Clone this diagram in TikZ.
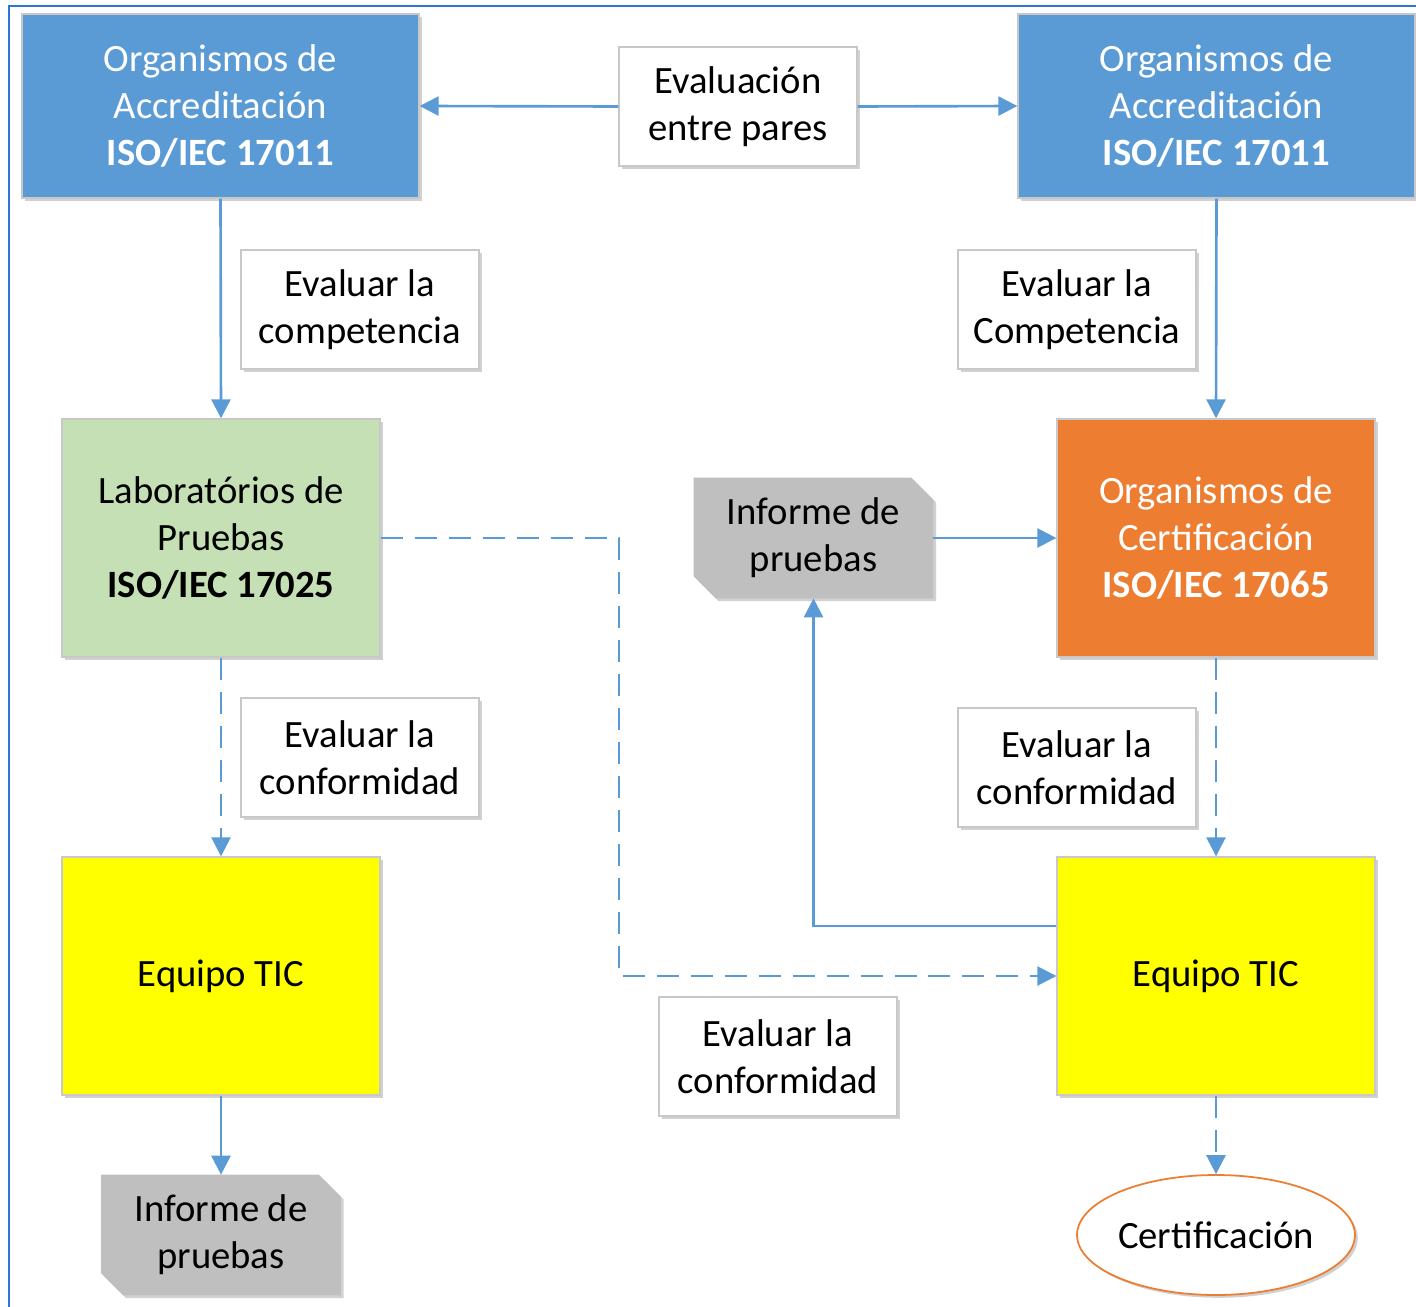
\documentclass[tikz,border=0pt]{standalone}
\usepackage{fontspec}
\setmainfont{Carlito}
\usetikzlibrary{shadows,arrows.meta,backgrounds,shapes.geometric}
\definecolor{accblue}{HTML}{5B9BD5}
\definecolor{labgreen}{HTML}{C5E0B4}
\definecolor{certorange}{HTML}{ED7D31}
\definecolor{ticyellow}{HTML}{FFFF00}
\definecolor{infgray}{HTML}{BFBFBF}
\definecolor{edgegray}{HTML}{C8C8C8}
\definecolor{frameblue}{HTML}{2E75D6}
\tikzset{
  shadowed/.style={drop shadow={shadow xshift=1.6pt,shadow yshift=-1.6pt,opacity=0.3,fill=black!60}},
  basebox/.style={rectangle,draw=edgegray,line width=0.8pt,align=center,inner sep=0pt,
    font=\fontsize{22}{26.7}\selectfont,shadowed},
  accbox/.style={basebox,fill=accblue,text=white,minimum width=7.94cm,minimum height=3.68cm},
  bigbox/.style={basebox,minimum width=6.36cm,minimum height=4.76cm},
  labelbox/.style={basebox,fill=white,minimum width=4.76cm,minimum height=2.38cm},
  infnode/.style={rectangle,align=center,inner sep=0pt,minimum width=4.78cm,minimum height=2.4cm,
    font=\fontsize{22}{26.7}\selectfont},
  infshape/.style={fill=infgray,shadowed},
  conn/.style={draw=accblue,line width=1.5pt,-{Triangle[length=0.38cm,width=0.38cm]}},
  dconn/.style={conn,dash pattern=on 0.44cm off 0.24cm},
}
\begin{document}
\begin{tikzpicture}[x=0.02cm,y=-0.02cm]
\useasboundingbox (0,0) rectangle (1416,1307);
% frame
\draw[frameblue,line width=1.4pt] (1416,6) -- (9,6) -- (9,1307);

% nodes
\node[accbox] (accL) at (220.5,106) {Organismos de\\Accreditación\\\textbf{ISO/IEC 17011}};
\node[accbox] (accR) at (1216.5,106) {Organismos de\\Accreditación\\\textbf{ISO/IEC 17011}};
\node[labelbox] (peer) at (738,106.5) {Evaluación\\entre pares};
\node[labelbox] (compL) at (360,309.5) {Evaluar la\\competencia};
\node[labelbox] (compR) at (1077,309.5) {Evaluar la\\Competencia};
\node[bigbox,fill=labgreen] (lab) at (221,538) {Laboratórios de\\Pruebas\\\textbf{ISO/IEC 17025}};
\node[bigbox,fill=certorange,text=white] (cert) at (1216,538) {Organismos de\\Certificación\\\textbf{ISO/IEC 17065}};
\node[labelbox] (confL) at (360,757.5) {Evaluar la\\conformidad};
\node[labelbox] (confR) at (1077,767.5) {Evaluar la\\conformidad};
\node[bigbox,fill=ticyellow] (eqL) at (221,976) {Equipo TIC};
\node[bigbox,fill=ticyellow] (eqR) at (1216,976) {Equipo TIC};
\node[labelbox] (confB) at (778,1056.5) {Evaluar la\\conformidad};
\node[infnode] (infM) at (813.5,538) {Informe de\\pruebas};
\node[infnode] (infB) at (221,1235) {Informe de\\pruebas};
\node[ellipse,draw=certorange,line width=1pt,fill=white,shadowed,minimum width=5.56cm,minimum height=2.4cm,
  inner sep=0pt,font=\fontsize{22}{26.7}\selectfont] (certif) at (1216,1235) {Certificación};

% snipped report shapes behind their text
\begin{scope}[on background layer]
\foreach \n in {infM,infB}{
  \path[infshape] (\n.north west) -- ([xshift=-0.44cm]\n.north east) -- ([yshift=-0.44cm]\n.north east)
    -- (\n.south east) -- ([xshift=0.44cm]\n.south west) -- ([yshift=0.44cm]\n.south west) -- cycle;
}
\end{scope}

% connectors
\coordinate (j1) at (619,538);
\draw[conn] (peer.west) -- (accL.east);
\draw[conn] (peer.east) -- (accR.west);
\draw[conn] (accL.south) -- (lab.north);
\draw[conn] (accR.south) -- (cert.north);
\draw[dconn] (lab.south) -- (eqL.north);
\draw[dconn] (cert.south) -- (eqR.north);
\draw[dconn] (lab.east) -- (j1) |- (eqR.west);
\draw[conn] (infM.east) -- (cert.west);
\draw[conn] ([yshift=1cm]eqR.west) -| (infM.south);
\draw[conn] (eqL.south) -- (infB.north);
\draw[dconn] (eqR.south) -- (certif.north);
\end{tikzpicture}
\end{document}
